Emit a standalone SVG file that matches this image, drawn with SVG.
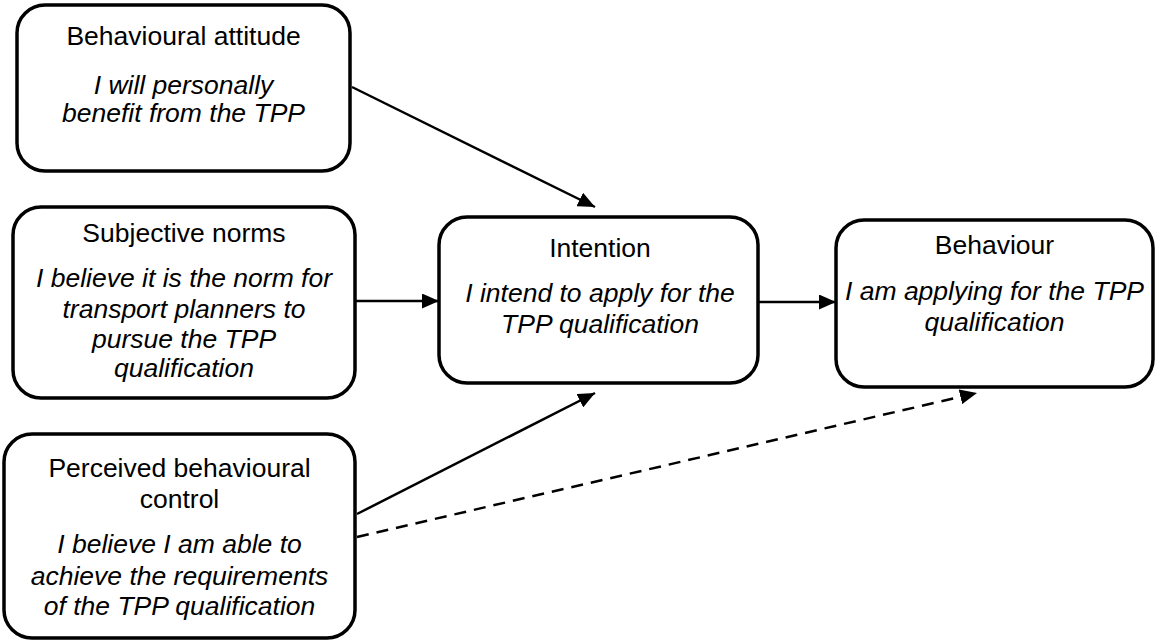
<svg xmlns="http://www.w3.org/2000/svg" width="1156" height="644" viewBox="0 0 1156 644">
<style>
.box{fill:#fff;stroke:#000;stroke-width:3.5}
.t{font-family:"Liberation Sans",Arial,sans-serif;font-size:26.5px;fill:#000;text-anchor:middle}
.i{font-style:italic}
.c{stroke:#000;stroke-width:2.5;fill:none}
.d{stroke-dasharray:12,8}
</style>
<defs>
<marker id="ah" viewBox="0 0 17 15" refX="17" refY="7.5" markerWidth="17" markerHeight="15" markerUnits="userSpaceOnUse" orient="auto">
<path d="M0,0 L17,7.5 L0,15 Z" fill="#000"/>
</marker>
</defs>
<rect width="1156" height="644" fill="#fff"/>
<g id="connectors">
<line class="c" x1="352" y1="87" x2="595" y2="207" marker-end="url(#ah)"/>
<line class="c" x1="355" y1="301" x2="439" y2="301" marker-end="url(#ah)"/>
<line class="c" x1="357" y1="514" x2="595" y2="393" marker-end="url(#ah)"/>
<line class="c" x1="758" y1="302" x2="836" y2="302" marker-end="url(#ah)"/>
<line class="c d" x1="357" y1="537" x2="977" y2="393" marker-end="url(#ah)"/>
</g>
<g id="attitude">
<rect class="box" x="17" y="5" width="333" height="166" rx="28"/>
<text class="t" x="183.5" y="45">Behavioural attitude</text>
<text class="t i" x="183.5" y="94">I will personally</text>
<text class="t i" x="183.5" y="122">benefit from the TPP</text>
</g>
<g id="norms">
<rect class="box" x="13" y="207" width="342" height="191" rx="28"/>
<text class="t" x="184" y="242">Subjective norms</text>
<text class="t i" x="184" y="287">I believe it is the norm for</text>
<text class="t i" x="184" y="318">transport planners to</text>
<text class="t i" x="184" y="348">pursue the TPP</text>
<text class="t i" x="184" y="377">qualification</text>
</g>
<g id="control">
<rect class="box" x="4" y="434" width="351" height="204" rx="28"/>
<text class="t" x="179.5" y="477">Perceived behavioural</text>
<text class="t" x="179.5" y="508">control</text>
<text class="t i" x="179.5" y="553">I believe I am able to</text>
<text class="t i" x="179.5" y="585">achieve the requirements</text>
<text class="t i" x="179.5" y="615">of the TPP qualification</text>
</g>
<g id="intention">
<rect class="box" x="439" y="217" width="319" height="166" rx="28"/>
<text class="t" x="600" y="257">Intention</text>
<text class="t i" x="600" y="302">I intend to apply for the</text>
<text class="t i" x="600" y="333">TPP qualification</text>
</g>
<g id="behaviour">
<rect class="box" x="836" y="220" width="317" height="167" rx="28"/>
<text class="t" x="994.5" y="254">Behaviour</text>
<text class="t i" x="994.5" y="300">I am applying for the TPP</text>
<text class="t i" x="994.5" y="331">qualification</text>
</g>
</svg>
